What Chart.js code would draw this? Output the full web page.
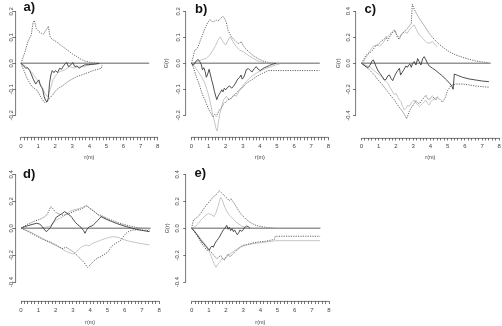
<!DOCTYPE html>
<html>
<head>
<meta charset="utf-8">
<script src="https://cdn.jsdelivr.net/npm/chart.js@4.4.1/dist/chart.umd.min.js"></script>
<style>
  html, body { margin: 0; padding: 0; background: #fff; }
  body { position: relative; width: 502px; height: 326px; overflow: hidden; }
  canvas { position: absolute; }
</style>
</head>
<body>
<canvas id="panelA" width="170" height="172" style="left:0px;top:-11px"></canvas>
<canvas id="panelB" width="172" height="172" style="left:163px;top:-11px"></canvas>
<canvas id="panelC" width="171" height="172" style="left:335px;top:-11px"></canvas>
<canvas id="panelD" width="170" height="171" style="left:0px;top:155px"></canvas>
<canvas id="panelE" width="172" height="171" style="left:164px;top:155px"></canvas>
<script>
// tick values
const xTickValues = [];
for (let i = 0; i <= 40; i++) xTickValues.push(i / 5);
const yTicksSmall = [-0.2, -0.1, 0, 0.1, 0.2];
const yTicksLarge = [-0.4, -0.2, 0, 0.2, 0.4];

// zero reference line (all panels)
const zeroX = [0, 7.5];
const zeroY = [0, 0];

// panel a
const aObsX = [0,0.16,0.27,0.39,0.51,0.62,0.74,0.86,0.95,1.05,1.13,1.21,1.28,1.36,1.44,1.52,1.6,1.67,1.75,1.83,1.93,2.02,2.14,2.26,2.37,2.49,2.61,2.68,2.78,2.92,3.03,3.15,3.27,3.39,3.54,3.72,3.97,4.3,4.59];
const aObsY = [0,-0.01,-0.019,-0.017,-0.028,-0.045,-0.064,-0.08,-0.071,-0.064,-0.084,-0.093,-0.103,-0.129,-0.142,-0.149,-0.135,-0.077,-0.045,-0.028,-0.036,-0.028,-0.036,-0.019,-0.023,-0.01,0,0.003,-0.013,-0.006,0.003,-0.013,-0.01,-0.019,-0.013,-0.006,-0.005,-0.003,0];
const aUpX = [0,0.21,0.41,0.6,0.7,0.78,0.89,1.05,1.19,1.32,1.44,1.6,1.71,1.87,2.06,2.26,2.45,2.65,2.84,3.03,3.27,3.52,3.77,4.1,4.49];
const aUpY = [0,0.039,0.084,0.109,0.154,0.165,0.135,0.122,0.116,0.112,0.126,0.142,0.1,0.09,0.084,0.073,0.064,0.054,0.045,0.035,0.026,0.015,0.008,0.003,0];
const aLowX = [0,0.16,0.31,0.47,0.62,0.78,0.93,1.09,1.25,1.4,1.52,1.67,1.87,2.06,2.26,2.49,2.74,3.0,3.27,3.58,3.91,4.24,4.55,4.71,4.75];
const aLowY = [0,-0.026,-0.051,-0.071,-0.088,-0.097,-0.103,-0.122,-0.139,-0.152,-0.148,-0.135,-0.12,-0.103,-0.093,-0.084,-0.071,-0.06,-0.051,-0.044,-0.036,-0.028,-0.022,-0.019,-0.006];
const aLightX = [0,0.31,0.6,0.89,1.09,1.25,1.4,1.56,1.71,1.87,2.06,2.26,2.55,2.84,3.13,3.42,3.71,4.0,4.4,4.79];
const aLightY = [0,-0.013,-0.032,-0.058,-0.077,-0.093,-0.116,-0.129,-0.101,-0.064,-0.045,-0.032,-0.026,-0.013,-0.019,-0.01,-0.013,-0.006,-0.003,0];

// panel b
const bObsX = [0,0.1,0.19,0.29,0.39,0.49,0.58,0.64,0.72,0.8,0.87,0.95,1.03,1.11,1.18,1.26,1.34,1.42,1.48,1.53,1.61,1.69,1.77,1.84,1.92,2.0,2.12,2.23,2.35,2.47,2.58,2.7,2.82,2.89,2.97,3.05,3.13,3.2,3.32,3.44,3.55,3.67,3.79,3.9,4.02,4.14,4.25,4.41,4.56,4.76,4.95];
const bObsY = [0,-0.008,0,0.01,0.015,0.006,-0.006,-0.025,-0.017,-0.032,-0.054,-0.041,-0.023,-0.045,-0.064,-0.083,-0.108,-0.127,-0.14,-0.13,-0.121,-0.112,-0.102,-0.11,-0.096,-0.102,-0.092,-0.087,-0.096,-0.087,-0.076,-0.061,-0.054,-0.045,-0.061,-0.054,-0.041,-0.025,-0.02,-0.028,-0.033,-0.02,-0.013,-0.023,-0.028,-0.022,-0.017,-0.013,-0.008,-0.003,0];
const bUpX = [0,0.1,0.19,0.29,0.39,0.49,0.58,0.68,0.78,0.87,0.97,1.07,1.17,1.26,1.36,1.46,1.55,1.65,1.75,1.84,1.94,2.04,2.14,2.23,2.33,2.43,2.52,2.62,2.72,2.82,2.91,3.01,3.11,3.2,3.4,3.59,3.79,3.98,4.17,4.37,4.66,4.95];
const bUpY = [0,0.025,0.051,0.054,0.064,0.083,0.099,0.115,0.134,0.146,0.159,0.168,0.163,0.159,0.163,0.166,0.163,0.168,0.176,0.181,0.172,0.156,0.127,0.115,0.102,0.096,0.089,0.083,0.076,0.079,0.083,0.07,0.061,0.054,0.041,0.031,0.022,0.015,0.009,0.005,0.001,0];
const bLowX = [0,0.1,0.19,0.29,0.39,0.49,0.58,0.68,0.78,0.87,0.97,1.07,1.17,1.26,1.36,1.46,1.55,1.65,1.75,1.84,1.94,2.04,2.14,2.27,2.43,2.58,2.72,2.85,3.01,3.17,3.3,3.44,3.59,3.75,3.88,4.02,4.17,4.33,4.47,7.48];
const bLowY = [0,-0.013,-0.032,-0.054,-0.07,-0.089,-0.108,-0.127,-0.14,-0.155,-0.172,-0.185,-0.197,-0.206,-0.197,-0.204,-0.191,-0.178,-0.172,-0.159,-0.153,-0.146,-0.14,-0.138,-0.127,-0.118,-0.108,-0.099,-0.092,-0.079,-0.073,-0.067,-0.061,-0.053,-0.048,-0.043,-0.038,-0.033,-0.028,-0.028];
const bLightUpX = [0,0.29,0.58,0.87,1.07,1.26,1.42,1.55,1.69,1.84,2.0,2.14,2.27,2.43,2.62,2.82,3.01,3.3,3.59,3.98,4.37];
const bLightUpY = [0,0.006,0.013,0.019,0.032,0.051,0.07,0.089,0.102,0.083,0.07,0.089,0.102,0.083,0.064,0.051,0.045,0.032,0.019,0.006,0];
const bLightLowX = [0,0.19,0.39,0.58,0.78,0.97,1.11,1.22,1.32,1.42,1.5,1.57,1.65,1.77,1.88,2.04,2.19,2.33,2.47,2.62,2.78,2.91,3.11,3.3,3.5,3.79,4.08,4.37,4.66,4.95,5.15];
const bLightLowY = [0,-0.013,-0.032,-0.051,-0.076,-0.115,-0.153,-0.191,-0.217,-0.248,-0.261,-0.229,-0.197,-0.166,-0.14,-0.127,-0.14,-0.134,-0.121,-0.127,-0.108,-0.096,-0.076,-0.064,-0.051,-0.038,-0.028,-0.019,-0.013,-0.006,-0.003];

// panel c
const cObsX = [0,0.13,0.27,0.39,0.5,0.62,0.69,0.77,0.85,0.94,1.04,1.14,1.23,1.33,1.43,1.52,1.62,1.71,1.81,1.91,2.0,2.1,2.2,2.27,2.35,2.47,2.58,2.66,2.74,2.81,2.89,2.97,3.06,3.16,3.26,3.35,3.45,3.55,3.64,3.74,3.83,3.93,4.12,4.32,4.51,4.7,4.89,5.09,5.24,5.32,5.39,5.57,5.86,6.24,6.63,7.01,7.4];
const cObsY = [0,-0.013,-0.026,-0.033,-0.013,0.02,0.026,0,-0.026,-0.051,-0.072,-0.09,-0.107,-0.128,-0.123,-0.097,-0.09,-0.115,-0.133,-0.102,-0.077,-0.056,-0.038,-0.09,-0.072,-0.046,-0.02,-0.031,-0.013,-0.005,-0.031,0,0.013,-0.013,0.036,0.013,-0.013,0.036,0.051,0.026,0,-0.02,-0.038,-0.056,-0.077,-0.097,-0.123,-0.148,-0.174,-0.199,-0.082,-0.092,-0.107,-0.12,-0.128,-0.136,-0.141];
const cUpX = [0,0.13,0.27,0.4,0.54,0.66,0.79,0.92,1.04,1.18,1.31,1.43,1.52,1.62,1.73,1.85,1.96,2.08,2.2,2.31,2.43,2.54,2.66,2.77,2.89,2.95,3.06,3.2,3.35,3.55,3.74,3.93,4.22,4.51,4.8,5.09,5.47,5.86,6.24,6.63,7.01,7.4];
const cUpY = [0,0.031,0.064,0.077,0.087,0.102,0.128,0.141,0.153,0.174,0.184,0.205,0.174,0.199,0.225,0.243,0.251,0.199,0.184,0.217,0.235,0.251,0.266,0.286,0.307,0.455,0.414,0.379,0.345,0.307,0.269,0.23,0.184,0.146,0.115,0.09,0.064,0.046,0.031,0.018,0.01,0.005];
const cLowX = [0,0.17,0.37,0.56,0.75,0.94,1.14,1.33,1.52,1.71,1.91,2.1,2.29,2.43,2.54,2.62,2.7,2.77,2.87,2.97,3.06,3.16,3.26,3.35,3.45,3.55,3.64,3.74,3.83,3.93,4.03,4.12,4.22,4.32,4.41,4.51,4.61,4.7,4.8,4.89,4.99,5.09,5.18,5.28,5.47,5.86,6.24,6.63,7.01,7.4];
const cLowY = [0,-0.018,-0.038,-0.064,-0.09,-0.123,-0.153,-0.184,-0.217,-0.251,-0.281,-0.32,-0.353,-0.379,-0.404,-0.425,-0.396,-0.371,-0.345,-0.327,-0.307,-0.286,-0.302,-0.312,-0.294,-0.276,-0.261,-0.246,-0.269,-0.281,-0.261,-0.251,-0.271,-0.281,-0.261,-0.271,-0.286,-0.297,-0.276,-0.256,-0.21,-0.192,-0.174,-0.166,-0.159,-0.159,-0.166,-0.174,-0.179,-0.184];
const cLightUpX = [0,0.08,0.23,0.37,0.5,0.66,0.85,1.04,1.23,1.43,1.62,1.77,1.91,2.04,2.2,2.35,2.5,2.66,2.77,2.93,3.06,3.2,3.35,3.51,3.64,3.78,3.93,4.12,4.28,4.41];
const cLightUpY = [0,0,0.038,0.064,0.097,0.128,0.141,0.133,0.153,0.192,0.217,0.243,0.256,0.217,0.199,0.23,0.243,0.23,0.256,0.281,0.294,0.256,0.217,0.199,0.179,0.159,0.153,0.166,0.141,0.128];
const cLightLowX = [0,0.46,1.04,1.52,1.91,2.0,2.1,2.2,2.29,2.39,2.49,2.58,2.68,2.77,2.87,2.97,3.06,3.16,3.26,3.35,3.45,3.55,3.64,3.74,3.83,3.93,4.03,4.12,4.28,4.41];
const cLightLowY = [0,-0.026,-0.09,-0.153,-0.243,-0.23,-0.256,-0.281,-0.294,-0.332,-0.358,-0.345,-0.32,-0.332,-0.307,-0.294,-0.281,-0.302,-0.32,-0.332,-0.32,-0.307,-0.294,-0.281,-0.307,-0.32,-0.294,-0.281,-0.269,-0.256];

// panel d
const dObsX = [0,0.21,0.46,0.69,0.89,1.08,1.23,1.37,1.46,1.58,1.7,1.81,1.93,2.04,2.16,2.27,2.39,2.52,2.66,2.81,2.93,3.04,3.16,3.28,3.39,3.51,3.62,3.7,3.78,3.85,3.97,4.08,4.2,4.32,4.43,4.55,4.64,4.78,4.93,5.22,5.51,5.9,6.38,6.86,7.44];
const dObsY = [0,0.012,0.022,0.03,0.037,0.032,0.012,-0.012,-0.025,-0.012,0.005,0.032,0.057,0.082,0.092,0.101,0.111,0.124,0.111,0.099,0.082,0.062,0.042,0.027,0.017,0,-0.017,-0.037,-0.017,0,0.012,0.017,0.027,0.042,0.057,0.074,0.087,0.077,0.067,0.052,0.037,0.02,0.002,-0.012,-0.025];
const dUpX = [0,0.21,0.4,0.6,0.79,0.98,1.18,1.37,1.5,1.62,1.71,1.81,1.93,2.04,2.2,2.35,2.5,2.66,2.81,2.97,3.12,3.28,3.43,3.58,3.7,3.82,3.93,4.05,4.16,4.32,4.47,4.62,4.78,4.97,5.22,5.51,5.9,6.38,6.86,7.44];
const dUpY = [0,0.017,0.032,0.042,0.054,0.062,0.072,0.087,0.101,0.131,0.161,0.151,0.131,0.116,0.106,0.099,0.097,0.104,0.111,0.121,0.129,0.136,0.141,0.149,0.161,0.166,0.153,0.141,0.131,0.116,0.101,0.097,0.087,0.074,0.062,0.047,0.03,0.015,0.002,-0.005];
const dLowX = [0,0.31,0.6,0.89,1.18,1.46,1.75,2.04,2.24,2.43,2.58,2.72,2.85,3.01,3.16,3.31,3.47,3.62,3.74,3.85,3.93,4.05,4.16,4.28,4.39,4.51,4.62,4.74,4.86,4.97,5.09,5.2,5.32,5.43,5.55,5.67,5.78,5.9,6.01,6.13,6.28,6.47,6.86,7.44];
const dLowY = [0,-0.017,-0.037,-0.057,-0.077,-0.092,-0.106,-0.124,-0.141,-0.151,-0.141,-0.149,-0.161,-0.173,-0.191,-0.21,-0.23,-0.25,-0.27,-0.29,-0.28,-0.265,-0.25,-0.235,-0.225,-0.215,-0.21,-0.2,-0.191,-0.181,-0.166,-0.141,-0.126,-0.116,-0.106,-0.099,-0.087,-0.067,-0.047,-0.032,-0.02,-0.012,-0.012,-0.017];
const dLightUpX = [0,0.9,1.66,1.85,2.04,2.24,2.43,2.62,2.81,3.01,3.2,3.39,3.58,3.78,3.97,4.16,4.35,4.55,4.74,4.93];
const dLightUpY = [0,0,0.012,0.037,0.062,0.074,0.087,0.106,0.124,0.136,0.141,0.149,0.156,0.171,0.149,0.136,0.111,0.092,0.082,0.072];
const dLightLowX = [0,0.5,0.98,1.46,1.95,2.33,2.62,2.81,3.01,3.16,3.31,3.47,3.62,3.78,3.93,4.08,4.24,4.39,4.55,4.74,4.93,5.13,5.32,5.61,5.9,6.28,6.86,7.44];
const dLightLowY = [0,-0.025,-0.057,-0.092,-0.124,-0.149,-0.173,-0.181,-0.191,-0.181,-0.161,-0.141,-0.131,-0.124,-0.131,-0.116,-0.106,-0.099,-0.092,-0.082,-0.074,-0.067,-0.062,-0.067,-0.082,-0.097,-0.111,-0.124];

// panel e
const eObsX = [0,0.14,0.25,0.37,0.49,0.6,0.72,0.83,0.95,1.03,1.11,1.18,1.26,1.36,1.46,1.55,1.65,1.75,1.84,1.94,2.04,2.12,2.19,2.27,2.35,2.43,2.5,2.58,2.66,2.74,2.82,2.89,2.97,3.05,3.13,3.2,3.3,3.4];
const eObsY = [0,-0.017,-0.037,-0.057,-0.082,-0.101,-0.116,-0.136,-0.151,-0.161,-0.141,-0.131,-0.141,-0.111,-0.092,-0.077,-0.057,-0.032,-0.012,0,0.022,-0.007,0.007,-0.017,-0.002,-0.025,-0.012,-0.032,-0.047,-0.032,-0.012,-0.022,-0.017,0,0.012,0.017,0.012,0];
const eUpX = [0,0.1,0.21,0.33,0.45,0.56,0.68,0.8,0.91,1.03,1.15,1.26,1.38,1.5,1.61,1.73,1.84,1.96,2.08,2.19,2.29,2.39,2.5,2.62,2.74,2.85,3.01,3.17,3.32,3.5,3.69,3.88,4.17,4.47,4.85];
const eUpY = [0,0.062,0.072,0.082,0.099,0.116,0.141,0.161,0.181,0.198,0.216,0.235,0.245,0.26,0.28,0.265,0.25,0.235,0.22,0.205,0.22,0.2,0.181,0.156,0.131,0.111,0.087,0.067,0.052,0.037,0.025,0.017,0.01,0.005,0];
const eLowX = [0,0.14,0.29,0.45,0.58,0.72,0.87,1.03,1.17,1.3,1.46,1.57,1.69,1.81,1.9,2.0,2.12,2.23,2.35,2.47,2.58,2.7,2.82,2.93,3.05,3.2,3.36,3.51,3.69,3.88,4.08,4.27,4.47,4.66,4.82,4.87,7.48];
const eLowY = [0,-0.022,-0.05,-0.082,-0.111,-0.136,-0.161,-0.166,-0.181,-0.205,-0.225,-0.215,-0.201,-0.225,-0.235,-0.211,-0.191,-0.211,-0.198,-0.181,-0.166,-0.156,-0.141,-0.131,-0.124,-0.121,-0.116,-0.111,-0.106,-0.101,-0.099,-0.097,-0.092,-0.087,-0.082,-0.059,-0.059];
const eLightUpX = [0,0.19,0.39,0.58,0.78,0.97,1.17,1.3,1.42,1.53,1.61,1.69,1.77,1.88,2.0,2.14,2.27,2.43,2.62,2.91,3.2];
const eLightUpY = [0,0.012,0.037,0.067,0.092,0.111,0.099,0.087,0.116,0.161,0.198,0.23,0.215,0.173,0.136,0.106,0.087,0.067,0.042,0.017,0.002];
const eLightLowX = [0,0.29,0.58,0.87,1.07,1.22,1.34,1.42,1.53,1.65,1.77,1.88,2.04,2.23,2.43,2.62,2.82,3.01,3.2,3.5,3.79,4.08,4.37,4.66,4.87,7.48];
const eLightLowY = [0,-0.042,-0.087,-0.131,-0.186,-0.235,-0.272,-0.29,-0.265,-0.248,-0.223,-0.235,-0.211,-0.191,-0.173,-0.156,-0.141,-0.131,-0.124,-0.116,-0.111,-0.106,-0.101,-0.097,-0.092,-0.092];

const textColor = "#444";
const axisColor = "#555";
Chart.defaults.font.family = "'Liberation Sans', Arial, Helvetica, sans-serif";

const lineStyles = {
    obs: { color: "#3a3a3a", width: 0.9, dash: [] },
    env: { color: "#555555", width: 0.9, dash: [1.2, 1.2] },
    light: { color: "#c6c6c6", width: 1, dash: [] },
    zero: { color: "#959595", width: 1.5, dash: [] },
};

function series(xs, ys, kind) {
    const st = lineStyles[kind];
    const pts = [];
    for (let i = 0; i < Math.min(xs.length, ys.length); i++) {
        pts.push({ x: xs[i], y: ys[i] });
    }
    return {
        data: pts,
        borderColor: st.color,
        borderWidth: st.width,
        borderDash: st.dash,
        pointRadius: 0,
        tension: 0,
        fill: false,
    };
}

// R-style axis lines (first to last tick only) and the panel letter
const rAxes = {
    id: "rAxes",
    afterDraw(chart, args, opts) {
        const { ctx, chartArea } = chart;
        const sx = chart.scales.x;
        const sy = chart.scales.y;
        ctx.save();
        ctx.strokeStyle = axisColor;
        ctx.lineWidth = 0.8;
        ctx.beginPath();
        const yb = Math.round(chartArea.bottom) + 0.4;
        ctx.moveTo(sx.getPixelForValue(0), yb);
        ctx.lineTo(sx.getPixelForValue(8), yb);
        const xl = Math.round(chartArea.left) - 0.4;
        ctx.moveTo(xl, sy.getPixelForValue(opts.yBottom));
        ctx.lineTo(xl, sy.getPixelForValue(opts.yTop));
        ctx.stroke();
        ctx.font = "bold 13px 'Liberation Sans', Arial, sans-serif";
        ctx.fillStyle = "#111";
        ctx.textBaseline = "alphabetic";
        ctx.fillText(opts.label, opts.lx, opts.ly);
        ctx.restore();
    },
};

function makePanel(id, cfg) {
    return new Chart(document.getElementById(id), {
        type: "line",
        data: { datasets: cfg.lines },
        options: {
            responsive: false,
            animation: false,
            devicePixelRatio: 1,
            events: [],
            layout: {
                padding: { top: cfg.padTop, right: cfg.padRight, bottom: 0, left: 0 },
            },
            scales: {
                x: {
                    type: "linear",
                    min: -0.32,
                    max: 8.32,
                    bounds: "data",
                    afterBuildTicks: (s) => {
                        s.ticks = xTickValues.map((v) => ({ value: v }));
                    },
                    afterFit: (s) => {
                        s.height = cfg.xHeight;
                        s.paddingLeft = 0;
                        s.paddingRight = 0;
                    },
                    border: { display: false },
                    grid: {
                        drawOnChartArea: false,
                        tickLength: 3,
                        color: axisColor,
                        lineWidth: 0.8,
                    },
                    ticks: {
                        autoSkip: false,
                        minRotation: 0,
                        maxRotation: 0,
                        padding: cfg.xLabelPad,
                        font: { size: 6 },
                        color: textColor,
                        callback: (v) => (Number.isInteger(v) ? String(v) : ""),
                    },
                    title: {
                        display: true,
                        text: "r(m)",
                        padding: 0,
                        font: { size: 5.5 },
                        color: textColor,
                    },
                },
                y: {
                    type: "linear",
                    min: -cfg.yLim,
                    max: cfg.yLim,
                    bounds: "data",
                    afterBuildTicks: (s) => {
                        s.ticks = cfg.yTicks.map((v) => ({ value: v }));
                    },
                    afterFit: (s) => {
                        s.width = cfg.yWidth;
                        s.paddingTop = 0;
                        s.paddingBottom = 0;
                    },
                    border: { display: false },
                    grid: {
                        drawOnChartArea: false,
                        tickLength: 3,
                        color: axisColor,
                        lineWidth: 0.8,
                    },
                    ticks: {
                        minRotation: 90,
                        maxRotation: 90,
                        crossAlign: "center",
                        padding: cfg.yLabelPad,
                        font: { size: 6 },
                        color: textColor,
                        callback: (v) => v.toFixed(1),
                    },
                    title: {
                        display: cfg.yTitle,
                        text: "G(r)",
                        padding: 0,
                        font: { size: 5.5 },
                        color: textColor,
                    },
                },
            },
            plugins: {
                legend: { display: false },
                tooltip: { enabled: false },
                rAxes: {
                    label: cfg.label,
                    lx: cfg.lx,
                    ly: cfg.ly,
                    yBottom: cfg.yTicks[0],
                    yTop: cfg.yTicks[cfg.yTicks.length - 1],
                },
            },
        },
        plugins: [rAxes],
    });
}

makePanel("panelA", {
    label: "a)", lx: 23.5, ly: 21.8,
    yLim: 0.285, yTicks: yTicksSmall, yTitle: false,
    yWidth: 15.5, padRight: 6.8, padTop: 0.3, xHeight: 23.7,
    yLabelPad: -4.2, xLabelPad: 2,
    lines: [
        series(aObsX, aObsY, "obs"),
        series(zeroX, zeroY, "zero"),
        series(aUpX, aUpY, "env"),
        series(aLowX, aLowY, "env"),
        series(aLightX, aLightY, "light"),
    ],
});

makePanel("panelB", {
    label: "b)", lx: 32, ly: 23.5,
    yLim: 0.285, yTicks: yTicksSmall, yTitle: true,
    yWidth: 23, padRight: 1.2, padTop: 0.3, xHeight: 23.7,
    yLabelPad: -0.2, xLabelPad: 2,
    lines: [
        series(bObsX, bObsY, "obs"),
        series(zeroX, zeroY, "zero"),
        series(bUpX, bUpY, "env"),
        series(bLowX, bLowY, "env"),
        series(bLightUpX, bLightUpY, "light"),
        series(bLightLowX, bLightLowY, "light"),
    ],
});

makePanel("panelC", {
    label: "c)", lx: 29.5, ly: 24,
    yLim: 0.569, yTicks: yTicksLarge, yTitle: true,
    yWidth: 21, padRight: 1.2, padTop: 0.1, xHeight: 23.5,
    yLabelPad: -1, xLabelPad: 2,
    lines: [
        series(cObsX, cObsY, "obs"),
        series(zeroX, zeroY, "zero"),
        series(cUpX, cUpY, "env"),
        series(cLowX, cLowY, "env"),
        series(cLightUpX, cLightUpY, "light"),
        series(cLightLowX, cLightLowY, "light"),
    ],
});

makePanel("panelD", {
    label: "d)", lx: 23, ly: 23,
    yLim: 0.54, yTicks: yTicksLarge, yTitle: false,
    yWidth: 15.5, padRight: 5.2, padTop: 0.6, xHeight: 25,
    yLabelPad: -4.2, xLabelPad: 2.4,
    lines: [
        series(dObsX, dObsY, "obs"),
        series(zeroX, zeroY, "zero"),
        series(dUpX, dUpY, "env"),
        series(dLowX, dLowY, "env"),
        series(dLightUpX, dLightUpY, "light"),
        series(dLightLowX, dLightLowY, "light"),
    ],
});

makePanel("panelE", {
    label: "e)", lx: 30.5, ly: 22,
    yLim: 0.54, yTicks: yTicksLarge, yTitle: true,
    yWidth: 22.2, padRight: 1.5, padTop: 0.6, xHeight: 25,
    yLabelPad: 0.2, xLabelPad: 2.4,
    lines: [
        series(eObsX, eObsY, "obs"),
        series(zeroX, zeroY, "zero"),
        series(eUpX, eUpY, "env"),
        series(eLowX, eLowY, "env"),
        series(eLightUpX, eLightUpY, "light"),
        series(eLightLowX, eLightLowY, "light"),
    ],
});
</script>
</body>
</html>
